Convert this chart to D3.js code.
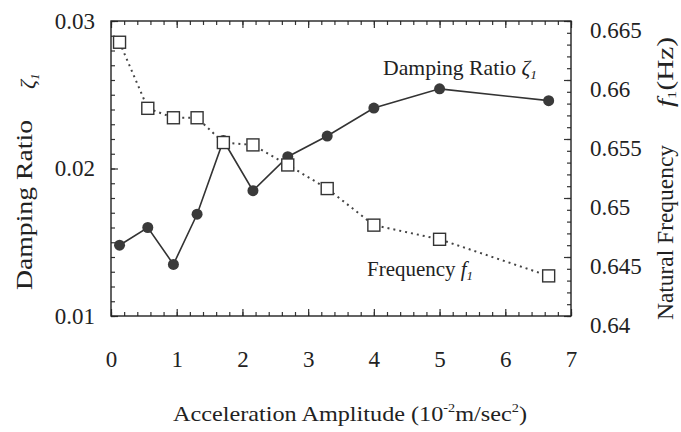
<!DOCTYPE html>
<html>
<head>
<meta charset="utf-8">
<script src="https://cdn.jsdelivr.net/npm/d3@7"></script>
<style>
  body { margin: 0; background: #fff; }
  text { font-family: "Liberation Serif", "Times New Roman", Times, serif; fill: #222; }
</style>
</head>
<body>
<script>
// acceleration amplitude (10^-2 m/sec^2), shared by both series
var accel = [0.13, 0.56, 0.95, 1.31, 1.71, 2.16, 2.69, 3.29, 4.0, 5.0, 6.66];
// damping ratio zeta_1 (left axis)
var damping = [0.0148, 0.0160, 0.0135, 0.0169, 0.0219, 0.0185, 0.0208, 0.0222, 0.0241, 0.0254, 0.0246];
// natural frequency f_1 in Hz (right axis)
var freq = [0.6632, 0.6576, 0.6568, 0.6568, 0.6547, 0.6545, 0.6528, 0.6508, 0.6477, 0.6465, 0.6434];

var xTicks = [0, 1, 2, 3, 4, 5, 6, 7];
var leftTicks = [0.01, 0.02, 0.03];
var rightTicks = [0.64, 0.645, 0.65, 0.655, 0.66, 0.665];

var svg = d3.select('body').append('svg')
            .attr('width', 681)
            .attr('height', 432);

var x = d3.scaleLinear().domain([0, 7]).range([111, 571]);
var yL = d3.scaleLinear().domain([0.01, 0.03]).range([316, 21]);
var yR = d3.scaleLinear().domain([0.64, 0.665]).range([316, 21]);

var minorX = d3.range(0, 7.001, 0.2);
var minorL = d3.range(0.01, 0.03001, 0.001);
var minorR = d3.range(0.64, 0.66501, 0.001);

function tidy(g) {
  g.select('.domain').remove();
  g.selectAll('line').attr('stroke', '#333').attr('stroke-width', 1.2);
}

// minor ticks, all pointing inward
svg.append('g').attr('transform', 'translate(0,316)')
   .call(d3.axisBottom(x).tickValues(minorX).tickSizeInner(-4).tickFormat(''))
   .call(tidy);
svg.append('g').attr('transform', 'translate(0,21)')
   .call(d3.axisTop(x).tickValues(minorX).tickSizeInner(-4).tickFormat(''))
   .call(tidy);
svg.append('g').attr('transform', 'translate(111,0)')
   .call(d3.axisLeft(yL).tickValues(minorL).tickSizeInner(-4).tickFormat(''))
   .call(tidy);
svg.append('g').attr('transform', 'translate(571,0)')
   .call(d3.axisRight(yR).tickValues(minorR).tickSizeInner(-4).tickFormat(''))
   .call(tidy);

// major ticks + labels
svg.append('g').attr('transform', 'translate(0,316)')
   .call(d3.axisBottom(x).tickValues(xTicks).tickSizeInner(-7).tickSizeOuter(0).tickPadding(35).tickFormat(d3.format('d')))
   .call(tidy)
   .selectAll('text').style('font-size', '23px');
svg.append('g').attr('transform', 'translate(0,21)')
   .call(d3.axisTop(x).tickValues(xTicks).tickSizeInner(-7).tickSizeOuter(0).tickFormat(''))
   .call(tidy);
svg.append('g').attr('transform', 'translate(111,0)')
   .call(d3.axisLeft(yL).tickValues(leftTicks).tickSizeInner(-7).tickSizeOuter(0).tickPadding(16).tickFormat(d3.format('.2f')))
   .call(tidy)
   .selectAll('text').style('font-size', '23px');
svg.append('g').attr('transform', 'translate(571,0)')
   .call(d3.axisRight(yR).tickValues(rightTicks).tickSizeInner(-7).tickSizeOuter(0).tickPadding(19).tickFormat(function(d) { return d3.format('')(+d.toFixed(3)); }))
   .call(tidy)
   .selectAll('text').style('font-size', '23px').attr('dy', '16px');

// frame
svg.append('rect')
   .attr('x', 111).attr('y', 21)
   .attr('width', 460).attr('height', 295)
   .attr('fill', 'none').attr('stroke', '#222').attr('stroke-width', 1.4);

var pts = accel.map(function(a, i) { return { a: a, d: damping[i], f: freq[i] }; });

// frequency dotted line
svg.append('path').datum(pts)
   .attr('d', d3.line().x(function(d) { return x(d.a); }).y(function(d) { return yR(d.f); }))
   .attr('fill', 'none').attr('stroke', '#444').attr('stroke-width', 2)
   .attr('stroke-dasharray', '2,4');

// damping solid line
svg.append('path').datum(pts)
   .attr('d', d3.line().x(function(d) { return x(d.a); }).y(function(d) { return yL(d.d); }))
   .attr('fill', 'none').attr('stroke', '#333').attr('stroke-width', 1.6);

svg.selectAll('circle.damp').data(pts).enter().append('circle')
   .attr('class', 'damp')
   .attr('cx', function(d) { return x(d.a); })
   .attr('cy', function(d) { return yL(d.d); })
   .attr('r', 5.5)
   .attr('fill', '#3a3a3a');

svg.selectAll('rect.freq').data(pts).enter().append('rect')
   .attr('class', 'freq')
   .attr('x', function(d) { return x(d.a) - 6; })
   .attr('y', function(d) { return yR(d.f) - 6; })
   .attr('width', 12).attr('height', 12)
   .attr('fill', '#fff').attr('stroke', '#333').attr('stroke-width', 1.4);

// series labels
var dl = svg.append('text').attr('x', 383).attr('y', 75)
   .attr('textLength', 154).attr('lengthAdjust', 'spacingAndGlyphs')
   .style('font-size', '21px');
dl.append('tspan').text('Damping Ratio ');
dl.append('tspan').style('font-style', 'italic').text('ζ');
dl.append('tspan').style('font-style', 'italic').style('font-size', '13px').attr('dy', 4).text('1');

var fl = svg.append('text').attr('x', 367).attr('y', 276)
   .attr('textLength', 106).attr('lengthAdjust', 'spacingAndGlyphs')
   .style('font-size', '21px');
fl.append('tspan').text('Frequency  ');
fl.append('tspan').style('font-style', 'italic').text('f');
fl.append('tspan').style('font-style', 'italic').style('font-size', '13px').attr('dy', 4).text('1');

// axis titles
svg.append('text')
   .attr('transform', 'translate(32,290) rotate(-90)')
   .attr('textLength', 170).attr('lengthAdjust', 'spacingAndGlyphs')
   .style('font-size', '23px')
   .text('Damping Ratio');
var zt = svg.append('text')
   .attr('transform', 'translate(35,89) rotate(-90)')
   .style('font-size', '22px');
zt.append('tspan').style('font-style', 'italic').text('ζ');
zt.append('tspan').style('font-style', 'italic').style('font-size', '13px').attr('dy', 4).text('1');

svg.append('text')
   .attr('transform', 'translate(673,320) rotate(-90)')
   .attr('textLength', 175).attr('lengthAdjust', 'spacingAndGlyphs')
   .style('font-size', '23px')
   .text('Natural Frequency');
var ft = svg.append('text')
   .attr('transform', 'translate(673,107) rotate(-90)')
   .attr('textLength', 70).attr('lengthAdjust', 'spacingAndGlyphs')
   .style('font-size', '23px');
ft.append('tspan').style('font-style', 'italic').text('f');
ft.append('tspan').style('font-size', '13px').attr('dy', 3).text('1');
ft.append('tspan').attr('dy', -3).text('(Hz)');

var xt = svg.append('text')
   .attr('x', 173).attr('y', 421)
   .attr('textLength', 354).attr('lengthAdjust', 'spacingAndGlyphs')
   .style('font-size', '22px');
xt.append('tspan').text('Acceleration Amplitude (10');
xt.append('tspan').style('font-size', '13px').attr('dy', -9).text('-2');
xt.append('tspan').attr('dy', 9).text('m/sec');
xt.append('tspan').style('font-size', '13px').attr('dy', -9).text('2');
xt.append('tspan').attr('dy', 9).text(')');
</script>
</body>
</html>
